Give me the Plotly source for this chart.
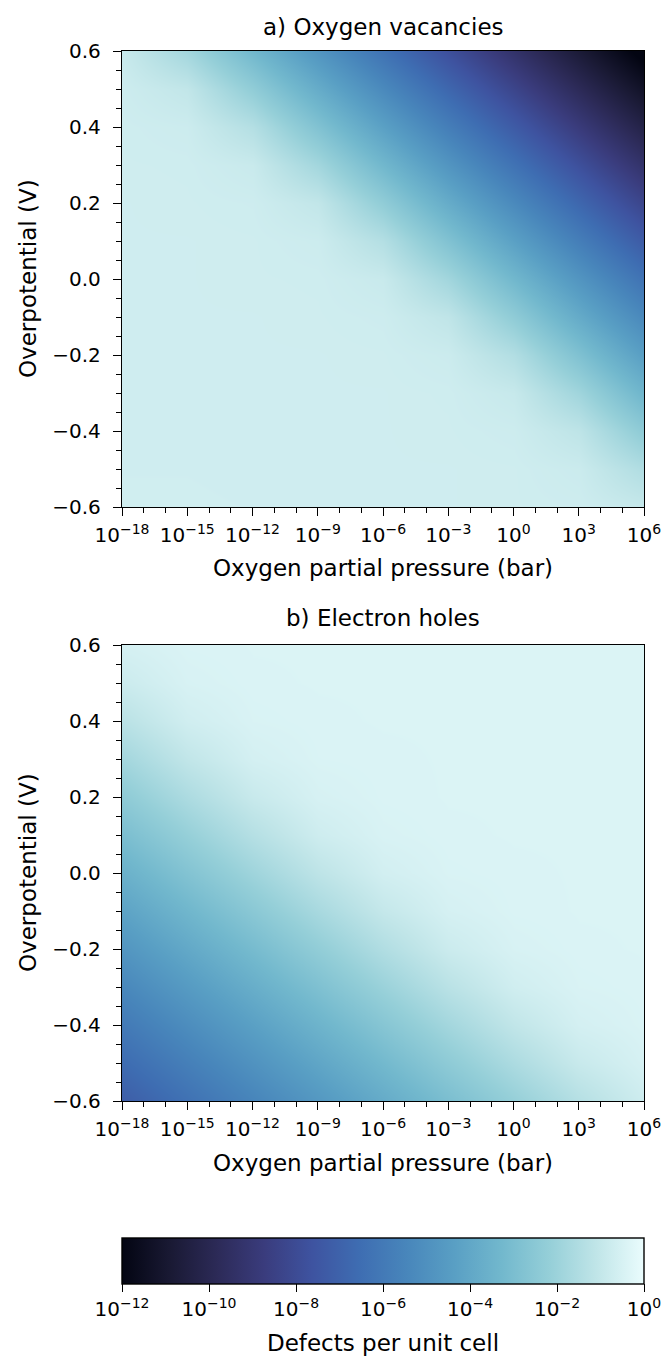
import plotly.graph_objects as go

# log10(pO2 / bar) grid and overpotential grid (V)
log_po2 = [-18, -15, -12, -9, -6, -3, 0, 3, 6]
overpotential = [-0.6, -0.5, -0.4, -0.3, -0.2, -0.1, 0.0, 0.1, 0.2, 0.3, 0.4, 0.5, 0.6]

# log10(defects per unit cell), rows follow overpotential, columns follow log_po2
vacancies_log = [
    [-0.68, -0.68, -0.69, -0.70, -0.70, -0.70, -0.71, -0.74, -0.95],
    [-0.69, -0.69, -0.70, -0.70, -0.70, -0.70, -0.71, -0.82, -1.50],
    [-0.70, -0.70, -0.70, -0.70, -0.70, -0.71, -0.76, -1.15, -2.40],
    [-0.70, -0.70, -0.70, -0.70, -0.70, -0.72, -0.92, -1.90, -3.40],
    [-0.70, -0.70, -0.70, -0.70, -0.71, -0.80, -1.45, -2.85, -4.40],
    [-0.70, -0.70, -0.70, -0.71, -0.75, -1.10, -2.35, -3.85, -5.35],
    [-0.70, -0.70, -0.71, -0.72, -0.88, -1.85, -3.30, -4.80, -6.30],
    [-0.70, -0.70, -0.71, -0.78, -1.40, -2.80, -4.30, -5.80, -7.30],
    [-0.70, -0.71, -0.74, -1.05, -2.31, -3.80, -5.30, -6.80, -8.30],
    [-0.71, -0.72, -0.87, -1.83, -3.30, -4.80, -6.30, -7.80, -9.30],
    [-0.72, -0.78, -1.40, -2.80, -4.30, -5.80, -7.30, -8.80, -10.30],
    [-0.76, -1.05, -2.31, -3.80, -5.30, -6.80, -8.30, -9.80, -11.30],
    [-0.88, -1.83, -3.30, -4.80, -6.30, -7.80, -9.30, -10.80, -12.30],
]

holes_log = [
    [-7.20, -6.36, -5.52, -4.68, -3.84, -3.00, -2.17, -1.37, -0.74],
    [-6.60, -5.76, -4.92, -4.08, -3.24, -2.40, -1.59, -0.89, -0.52],
    [-6.00, -5.16, -4.32, -3.48, -2.64, -1.82, -1.07, -0.58, -0.43],
    [-5.40, -4.56, -3.72, -2.88, -2.05, -1.26, -0.68, -0.45, -0.41],
    [-4.80, -3.96, -3.12, -2.29, -1.48, -0.81, -0.49, -0.41, -0.40],
    [-4.20, -3.36, -2.52, -1.70, -0.98, -0.55, -0.42, -0.40, -0.40],
    [-3.60, -2.76, -1.93, -1.16, -0.63, -0.44, -0.41, -0.40, -0.40],
    [-3.00, -2.17, -1.37, -0.74, -0.47, -0.41, -0.40, -0.40, -0.40],
    [-2.40, -1.59, -0.89, -0.52, -0.42, -0.40, -0.40, -0.40, -0.40],
    [-1.82, -1.07, -0.58, -0.43, -0.41, -0.40, -0.40, -0.40, -0.40],
    [-1.26, -0.68, -0.45, -0.41, -0.40, -0.40, -0.40, -0.40, -0.40],
    [-0.81, -0.49, -0.41, -0.40, -0.40, -0.40, -0.40, -0.40, -0.40],
    [-0.55, -0.42, -0.40, -0.40, -0.40, -0.40, -0.40, -0.40, -0.40],
]

x_tick_vals = [-18, -15, -12, -9, -6, -3, 0, 3, 6]
x_tick_text = ["10<sup>\u221218</sup>", "10<sup>\u221215</sup>", "10<sup>\u221212</sup>",
               "10<sup>\u22129</sup>", "10<sup>\u22126</sup>", "10<sup>\u22123</sup>",
               "10<sup>0</sup>", "10<sup>3</sup>", "10<sup>6</sup>"]
y_tick_vals = [-0.6, -0.4, -0.2, 0.0, 0.2, 0.4, 0.6]
y_tick_text = ["\u22120.6", "\u22120.4", "\u22120.2", "0.0", "0.2", "0.4", "0.6"]
cb_tick_vals = [-12, -10, -8, -6, -4, -2, 0]
cb_tick_text = ["10<sup>\u221212</sup>", "10<sup>\u221210</sup>", "10<sup>\u22128</sup>",
                "10<sup>\u22126</sup>", "10<sup>\u22124</sup>", "10<sup>\u22122</sup>",
                "10<sup>0</sup>"]

W, H = 665, 1358
FONT = "DejaVu Sans"
TICK_SIZE = 20
LABEL_SIZE = 23

# pixel layout
PL, PR = 122, 644
A_T, A_B = 51, 507
B_T, B_B = 645, 1101
CB_T, CB_B = 1238, 1284

fig = go.Figure()
fig.add_trace(go.Heatmap(x=log_po2, y=overpotential, z=vacancies_log, zsmooth="best",
                         coloraxis="coloraxis", xaxis="x", yaxis="y", hoverinfo="skip"))
fig.add_trace(go.Heatmap(x=log_po2, y=overpotential, z=holes_log, zsmooth="best",
                         coloraxis="coloraxis", xaxis="x2", yaxis="y2", hoverinfo="skip"))

def xdom(l, r):
    return [l / W, r / W]

def ydom(t, b):
    return [1 - b / H, 1 - t / H]

def py(v):
    return 1 - v / H

axis_common = dict(showline=True, linecolor="black", linewidth=1.4, mirror=True,
                   ticks="outside", ticklen=8, tickwidth=1.3, tickcolor="black",
                   showgrid=False, zeroline=False, automargin=False,
                   tickfont=dict(family=FONT, size=TICK_SIZE, color="black"))

xaxis_common = dict(axis_common, range=[-18, 6], tickvals=x_tick_vals, ticktext=x_tick_text,
                    ticklabelstandoff=2,
                    minor=dict(dtick=1, tick0=0, ticks="outside", ticklen=5, tickwidth=1, tickcolor="black"))
yaxis_common = dict(axis_common, range=[-0.6, 0.6], tickvals=y_tick_vals, ticktext=y_tick_text,
                    ticklabelstandoff=8,
                    minor=dict(dtick=0.05, tick0=0, ticks="outside", ticklen=5, tickwidth=1, tickcolor="black"))

def label(text, x, y, angle=0):
    return dict(text=text, x=x, y=y, xref="paper", yref="paper", showarrow=False,
                xanchor="center", yanchor="middle", textangle=angle,
                font=dict(family=FONT, size=LABEL_SIZE, color="black"))

cx = (PL + PR) / 2 / W

fig.update_layout(
    width=W, height=H,
    margin=dict(l=0, r=0, t=0, b=0, autoexpand=False),
    paper_bgcolor="white", plot_bgcolor="white",
    font=dict(family=FONT, color="black"),
    xaxis=dict(xaxis_common, domain=xdom(PL, PR), anchor="y"),
    yaxis=dict(yaxis_common, domain=ydom(A_T, A_B), anchor="x"),
    xaxis2=dict(xaxis_common, domain=xdom(PL, PR), anchor="y2"),
    yaxis2=dict(yaxis_common, domain=ydom(B_T, B_B), anchor="x2"),
    coloraxis=dict(
        colorscale="ice", cmin=-12, cmax=0,
        colorbar=dict(
            orientation="h", x=cx, xanchor="center",
            y=py(CB_T), yanchor="top", len=(PR - PL) / W, lenmode="fraction",
            thickness=CB_B - CB_T, thicknessmode="pixels", xpad=0, ypad=0,
            outlinecolor="black", outlinewidth=1.4,
            tickvals=cb_tick_vals, ticktext=cb_tick_text,
            ticks="outside", ticklen=8, tickwidth=1.3, tickcolor="black",
            tickfont=dict(family=FONT, size=TICK_SIZE, color="black"),
        ),
    ),
    annotations=[
        label("a) Oxygen vacancies", cx, py(27)),
        label("b) Electron holes", cx, py(618)),
        label("Oxygen partial pressure (bar)", cx, py(568)),
        label("Oxygen partial pressure (bar)", cx, py(1163)),
        label("Overpotential (V)", 28 / W, py((A_T + A_B) / 2), -90),
        label("Overpotential (V)", 28 / W, py((B_T + B_B) / 2), -90),
        label("Defects per unit cell", cx, py(1343)),
    ],
)

fig.write_html("out.html")
